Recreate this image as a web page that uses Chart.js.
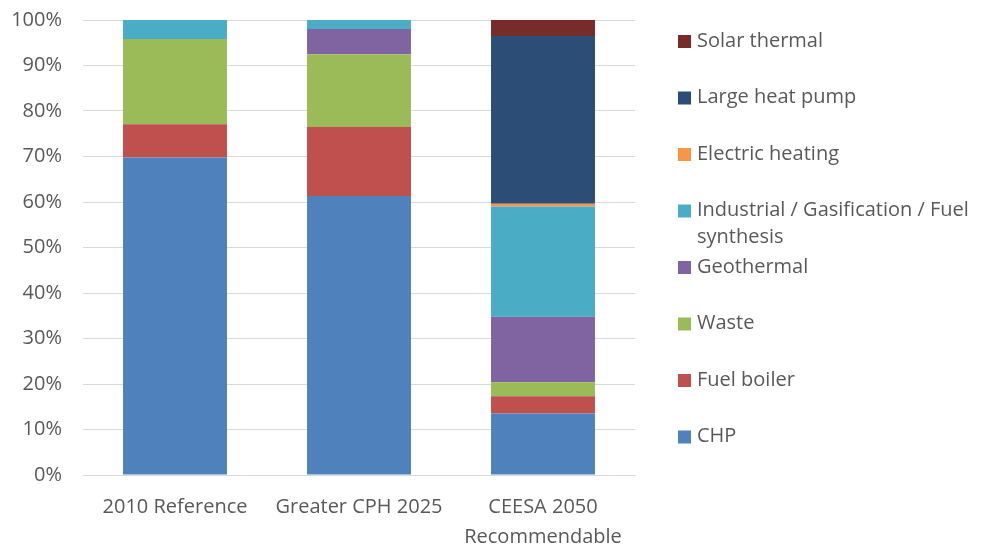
<!DOCTYPE html>
<html>
<head>
<meta charset="utf-8">
<script src="https://cdn.jsdelivr.net/npm/chart.js@4/dist/chart.umd.min.js"></script>
<style>
  html, body { margin: 0; padding: 0; background: #ffffff; }
  #wrap { width: 987px; height: 549px; position: relative; }
</style>
</head>
<body>
<div id="wrap"><canvas id="c"></canvas></div>
<script>
// District heating supply mix per scenario (share of total, %)
const scenarios = ["2010 Reference", "Greater CPH 2025", ["CEESA 2050", "Recommendable"]];

const chp            = [69.8, 61.3, 13.5];
const fuelBoiler     = [7.3, 15.2, 3.8];
const waste          = [18.7, 16.0, 3.1];
const geothermal     = [0.0, 5.5, 14.4];
const industrial     = [4.2, 2.0, 24.2];
const electricHeat   = [0.0, 0.0, 0.6];
const largeHeatPump  = [0.0, 0.0, 36.9];
const solarThermal   = [0.0, 0.0, 3.5];

const yTicks = [0, 10, 20, 30, 40, 50, 60, 70, 80, 90, 100];

const FONT = "'Open Sans', 'Liberation Sans', sans-serif";
const TEXT = "#595959";

const series = [
  { label: "CHP", data: chp, color: "#4F81BD" },
  { label: "Fuel boiler", data: fuelBoiler, color: "#C0504D" },
  { label: "Waste", data: waste, color: "#9BBB59" },
  { label: "Geothermal", data: geothermal, color: "#8064A2" },
  { label: ["Industrial / Gasification / Fuel", "synthesis"], data: industrial, color: "#4BACC6" },
  { label: "Electric heating", data: electricHeat, color: "#F79646" },
  { label: "Large heat pump", data: largeHeatPump, color: "#2C4D75" },
  { label: "Solar thermal", data: solarThermal, color: "#772C2A" }
];

// Legend drawn to the right of the plot, top item = last series
const sideLegend = {
  id: "sideLegend",
  afterDraw(chart) {
    const ctx = chart.ctx;
    const x = 678, step = 56.5;
    let y = 41;
    ctx.save();
    ctx.font = "20px " + FONT;
    ctx.textBaseline = "middle";
    for (let i = series.length - 1; i >= 0; i--) {
      const s = series[i];
      ctx.fillStyle = s.color;
      ctx.fillRect(x, y - 6, 13, 13);
      ctx.fillStyle = TEXT;
      const lines = Array.isArray(s.label) ? s.label : [s.label];
      lines.forEach((t, k) => ctx.fillText(t, x + 19, y + k * 27));
      y += step;
    }
    ctx.restore();
  }
};

new Chart(document.getElementById("c"), {
  type: "bar",
  data: {
    labels: scenarios,
    datasets: series.map(s => ({
      label: Array.isArray(s.label) ? s.label.join(" ") : s.label,
      data: s.data,
      backgroundColor: s.color,
      borderWidth: 0,
      categoryPercentage: 1.0,
      barPercentage: 0.565
    }))
  },
  options: {
    responsive: true,
    maintainAspectRatio: false,
    animation: false,
    layout: { padding: { top: 20, right: 352, left: 0, bottom: 0 } },
    plugins: {
      legend: { display: false },
      tooltip: { enabled: false }
    },
    scales: {
      x: {
        stacked: true,
        grid: { display: false, drawTicks: false },
        border: { display: true, color: "#d9d9d9", width: 1 },
        ticks: { color: TEXT, font: { family: FONT, size: 20, lineHeight: 1.5 }, padding: 17, maxRotation: 0, autoSkip: false },
        afterFit(scale) { scale.height = 74; scale.paddingLeft = 0; scale.paddingRight = 0; }
      },
      y: {
        stacked: true,
        min: 0,
        max: 100,
        afterBuildTicks(scale) { scale.ticks = yTicks.map(v => ({ value: v })); },
        grid: { color: "#d9d9d9", lineWidth: 1, drawTicks: false },
        border: { display: false },
        ticks: { color: TEXT, font: { family: FONT, size: 20 }, padding: 21, callback: v => v + "%" },
        afterFit(scale) { scale.width = 83; scale.paddingTop = 0; scale.paddingBottom = 0; }
      }
    }
  },
  plugins: [sideLegend]
});
</script>
</body>
</html>
